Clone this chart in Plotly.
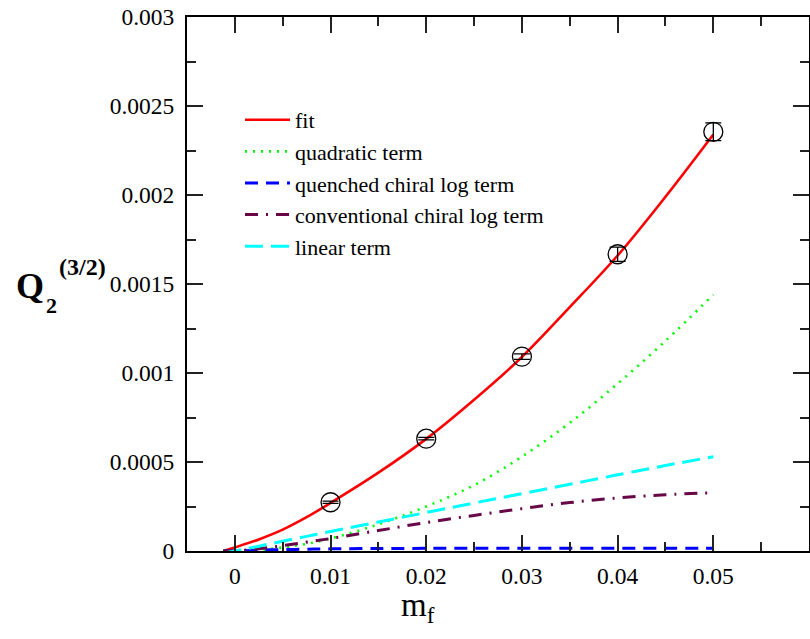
import plotly.graph_objects as go

# ---------------- data ----------------
m_data = [0.01, 0.02, 0.03, 0.04, 0.05]
q_data = [0.000274, 0.000631, 0.001092, 0.001667, 0.002355]
q_err = [0.000006, 0.000007, 0.000015, 0.00004, 0.00005]

m_curve = [-0.0012, 0.0, 0.0025, 0.005, 0.0075, 0.01, 0.015, 0.02, 0.025,
           0.03, 0.035, 0.04, 0.045, 0.05]
fit = [0.0, 0.00002, 0.000065, 0.00012, 0.00019, 0.00027, 0.00044, 0.00063,
       0.00085, 0.00109, 0.00137, 0.00166, 0.00199, 0.00234]
quadratic = [0.0, 0.0, 0.000005, 0.00002, 0.00004, 0.00007, 0.00015, 0.00025,
             0.00037, 0.00053, 0.00072, 0.00094, 0.00118, 0.00144]
quenched = [0.0, 0.0, 0.000005, 0.000008, 0.00001, 0.000012, 0.000014, 0.000015,
            0.000016, 0.000016, 0.000016, 0.000016, 0.000015, 0.000015]
conventional = [0.0, 0.0, 0.000013, 0.00003, 0.00005, 0.00007, 0.000115, 0.00016,
                0.0002, 0.000238, 0.000272, 0.000298, 0.000316, 0.000327]
linear = [-0.000012, 0.0, 0.000027, 0.000055, 0.000082, 0.00011, 0.000163, 0.000216,
          0.00027, 0.000322, 0.000375, 0.000428, 0.00048, 0.00053]

x_ticks = [0, 0.01, 0.02, 0.03, 0.04, 0.05]
x_ticktext = ["0", "0.01", "0.02", "0.03", "0.04", "0.05"]
y_ticks = [0, 0.0005, 0.001, 0.0015, 0.002, 0.0025, 0.003]
y_ticktext = ["0", "0.0005", "0.001", "0.0015", "0.002", "0.0025", "0.003"]

names = ["fit", "quadratic term", "quenched chiral log term",
         "conventional chiral log term", "linear term"]

# ---------------- figure ----------------
W, H = 810, 639
ML, MR, MT, MB = 187, 1, 17, 88
PW, PH = W - ML - MR, H - MT - MB


def px(X):
    return (X - ML) / PW


def py(Y):
    return (H - MB - Y) / PH


SERIF = "Liberation Serif"

fig = go.Figure()
series = [
    (fit, names[0], dict(color="#ff0000", width=2.6, dash="solid")),
    (quadratic, names[1], dict(color="#00ff00", width=2.6, dash="2px,6px")),
    (quenched, names[2], dict(color="#0000ff", width=3, dash="13px,8px")),
    (conventional, names[3], dict(color="#670748", width=3, dash="13px,8px,2px,8px")),
    (linear, names[4], dict(color="#00ffff", width=3, dash="18px,8px")),
]
for vals, nm, ln in series:
    fig.add_trace(go.Scatter(x=m_curve, y=vals, mode="lines", name=nm, line=ln,
                             line_shape="spline"))

fig.add_trace(go.Scatter(
    x=m_data, y=q_data, mode="markers", showlegend=False,
    marker=dict(symbol="circle-open", size=19, color="black", line=dict(width=1.3, color="black")),
    error_y=dict(type="data", array=q_err, visible=True, color="black", thickness=1.3, width=8),
))

tickfont = dict(family=SERIF, size=23.5, color="black")
minor_x = dict(dtick=0.005, tick0=0, ticks="inside", ticklen=9, tickwidth=1.5, tickcolor="#222222")
minor_y = dict(dtick=0.00025, tick0=0, ticks="inside", ticklen=9, tickwidth=1.5, tickcolor="#222222")

fig.update_layout(
    template="none",
    width=W, height=H,
    margin=dict(l=ML, r=MR, t=MT, b=MB, pad=0),
    plot_bgcolor="white", paper_bgcolor="white",
    font=dict(family=SERIF, color="black", size=20),
    xaxis=dict(range=[-0.005, 0.06], tickmode="array", tickvals=x_ticks, ticktext=x_ticktext,
               showgrid=False, zeroline=False, showline=True, linecolor="black",
               linewidth=2, mirror="allticks", ticks="inside", ticklen=16,
               tickwidth=1.5, tickcolor="#222222", tickfont=tickfont,
               ticklabelstandoff=3, minor=minor_x),
    yaxis=dict(range=[0, 0.003], tickmode="array", tickvals=y_ticks, ticktext=y_ticktext,
               showgrid=False, zeroline=False, showline=True, linecolor="black",
               linewidth=2, mirror="allticks", ticks="inside", ticklen=16,
               tickwidth=1.5, tickcolor="#222222", tickfont=tickfont,
               ticklabelstandoff=6, minor=minor_y),
    legend=dict(x=px(240), y=py(99), xanchor="left", yanchor="top",
                font=dict(family=SERIF, size=22, color="black"),
                bgcolor="rgba(0,0,0,0)", borderwidth=0, itemwidth=45),
    annotations=[
        dict(text="<b>Q</b>", x=px(30), y=py(286), xref="paper", yref="paper",
             showarrow=False, xanchor="center", yanchor="middle",
             font=dict(family=SERIF, size=36, color="black")),
        dict(text="<b>2</b>", x=px(51), y=py(305), xref="paper", yref="paper",
             showarrow=False, xanchor="center", yanchor="middle",
             font=dict(family=SERIF, size=22, color="black")),
        dict(text="<b>(3/2)</b>", x=px(57), y=py(267), xref="paper", yref="paper",
             showarrow=False, xanchor="left", yanchor="middle",
             font=dict(family=SERIF, size=24, color="black")),
        dict(text="m<sub>f</sub>", x=px(418), y=py(607), xref="paper", yref="paper",
             showarrow=False, xanchor="center", yanchor="middle",
             font=dict(family=SERIF, size=33, color="black")),
    ],
)

fig.write_html("out.html")
